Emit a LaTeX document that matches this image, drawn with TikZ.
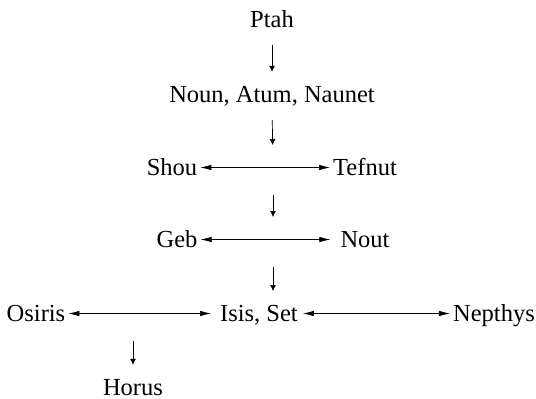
\documentclass[tikz,border=0pt]{standalone}
\usepackage{fontspec}
\setmainfont{Liberation Serif}
\newfontfamily\godfont{Liberation Serif}
\usetikzlibrary{arrows.meta}
\begin{document}
\begin{tikzpicture}[x=1pt,y=-1pt,
  god/.style={anchor=base,inner xsep=3pt,inner ysep=0pt,text height=16pt,text depth=1pt,font=\godfont\fontsize{24.5}{28}\selectfont},
  couple/.style={line width=0.6pt,{Latex[length=11pt,width=5.5pt]}-{Latex[length=11pt,width=5.5pt]}},
  descent/.style={line width=0.7pt,-{Latex[length=6pt,width=6pt]},shorten <=27pt,shorten >=23pt}]
\useasboundingbox (0,0) rectangle (536,399);

\node[god] (ptah) at (272,27) {Ptah};
\node[god] (noun) at (272,102) {Noun, Atum, Naunet};
\node[god] (shou) at (172,175) {Shou};
\node[god] (tefnut) at (365,175) {Tefnut};
\node[god] (geb) at (177,247) {Geb};
\node[god] (nout) at (365,247) {Nout};
\node[god] (osiris) at (36,321) {Osiris};
\node[god] (isis) at (259,321) {Isis, Set};
\node[god] (nepthys) at (494,321) {Nepthys};
\node[god] (horus) at (133,395) {Horus};

\coordinate (st) at (273,168);
\coordinate (gn) at (273,240);
\coordinate (is) at (273,314);
\coordinate (oi) at (133,314);

\draw[couple] (shou) -- (tefnut);
\draw[couple,shorten >=7pt] (geb) -- (nout);
\draw[couple,shorten >=6pt] (osiris) -- (isis);
\draw[couple,shorten <=2pt] (isis) -- (nepthys);

\draw[descent,shorten <=17pt,shorten >=14pt] (ptah) -- (noun);
\draw[descent,shorten <=17pt] (noun.south) -- (st);
\draw[descent] (st) -- (gn);
\draw[descent] (gn) -- (is);
\draw[descent,shorten >=14pt] (oi) -- (horus.north);
\end{tikzpicture}
\end{document}
